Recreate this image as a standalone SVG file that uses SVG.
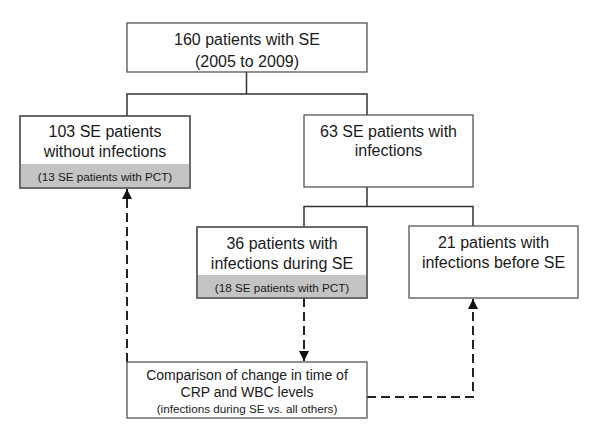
<svg xmlns="http://www.w3.org/2000/svg" width="600" height="442" viewBox="0 0 600 442">
<defs>
<style>
.box{fill:#fff;stroke:#555;stroke-width:1.3}
.band{fill:#c4c4c4;stroke:none}
.t{font-family:"Liberation Sans",Arial,sans-serif;font-size:16px;fill:#1a1a1a;text-anchor:middle}
.m{font-size:14px}
.s{font-size:11.7px}
.solid{fill:none;stroke:#333;stroke-width:1.5}
.dash{fill:none;stroke:#222;stroke-width:2;stroke-dasharray:9,5}
</style>
<marker id="ah" viewBox="0 0 10 10" refX="10" refY="5" markerWidth="5" markerHeight="5" orient="auto" markerUnits="strokeWidth">
<path d="M0,0 L10,5 L0,10 z" fill="#111"/>
</marker>
</defs>
<rect width="600" height="442" fill="#fff"/>
<g id="connectors">
<path class="solid" d="M246.5,72 V94 M127,115.5 V94 H367 V115"/>
<path class="solid" d="M367,187 V206.5 H304 V227 M367,206.5 H473 V226"/>
<path class="dash" d="M304,298 V361" marker-end="url(#ah)"/>
<path class="dash" d="M127,362 V189" marker-end="url(#ah)"/>
<path class="dash" d="M367,397 H473 V299" marker-end="url(#ah)"/>
</g>
<g id="n160">
<rect class="box" x="127" y="23" width="240" height="49"/>
<text class="t" x="247" y="45">160 patients with SE</text>
<text class="t" x="247" y="67">(2005 to 2009)</text>
</g>
<g id="n103">
<rect class="box" x="20" y="116" width="170" height="72"/>
<rect class="band" x="20.7" y="164" width="168.6" height="23.4"/>
<rect x="20" y="116" width="170" height="72" fill="none" stroke="#555" stroke-width="1.3"/>
<text class="t" x="105" y="137">103 SE patients</text>
<text class="t" x="105" y="157">without infections</text>
<text class="t s" x="105" y="181">(13 SE patients with PCT)</text>
</g>
<g id="n63">
<rect class="box" x="304" y="115" width="169" height="72"/>
<text class="t" x="388.5" y="137">63 SE patients with</text>
<text class="t" x="388.5" y="156">infections</text>
</g>
<g id="n36">
<rect class="box" x="197" y="227" width="170" height="71"/>
<rect class="band" x="197.7" y="275" width="168.6" height="22.4"/>
<rect x="197" y="227" width="170" height="71" fill="none" stroke="#555" stroke-width="1.3"/>
<text class="t" x="282" y="249">36 patients with</text>
<text class="t" x="282" y="269">infections during SE</text>
<text class="t s" x="282" y="292">(18 SE patients with PCT)</text>
</g>
<g id="n21">
<rect class="box" x="409" y="226" width="169" height="72"/>
<text class="t" x="493.5" y="248">21 patients with</text>
<text class="t" x="493.5" y="268">infections before SE</text>
</g>
<g id="ncomp">
<rect class="box" x="127" y="362" width="240" height="56"/>
<text class="t m" x="247" y="380">Comparison of change in time of</text>
<text class="t m" x="247" y="397">CRP and WBC levels</text>
<text class="t s" x="247" y="413">(infections during SE vs. all others)</text>
</g>
</svg>
